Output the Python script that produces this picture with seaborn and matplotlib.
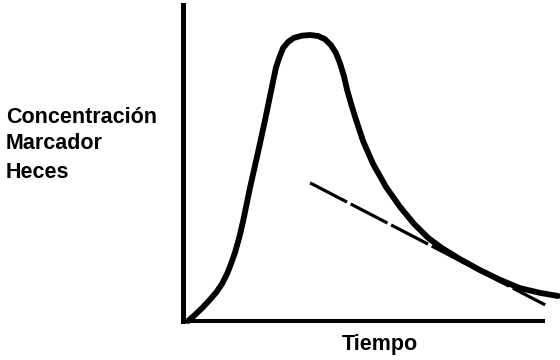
import matplotlib
matplotlib.use("Agg")
import matplotlib.pyplot as plt
import seaborn as sns
import pandas as pd

# Marker concentration in faeces over time (arbitrary units)
tiempo = [0.14, 0.33, 0.53, 0.72, 0.92, 1.08, 1.22, 1.33, 1.44, 1.56, 1.67, 1.86,
          2.08, 2.28, 2.47, 2.58, 2.67, 2.78, 2.92, 3.08, 3.31, 3.53, 3.75, 3.94,
          4.11, 4.25, 4.36, 4.47, 4.56, 4.67, 4.78, 5.00, 5.28, 5.64, 6.03, 6.42,
          6.81, 7.19, 7.69, 8.25, 8.81, 9.36, 9.92, 10.42]
concentracion = [0.00, 0.19, 0.41, 0.64, 0.90, 1.17, 1.48, 1.80, 2.15, 2.63, 3.16, 4.21,
                 5.32, 6.36, 7.41, 8.01, 8.32, 8.64, 8.83, 8.96, 9.03, 9.05, 9.02, 8.92,
                 8.73, 8.48, 8.16, 7.75, 7.31, 6.87, 6.46, 5.70, 4.97, 4.24, 3.61, 3.07,
                 2.63, 2.31, 1.96, 1.61, 1.30, 1.04, 0.89, 0.79]

# Tangent to the exponential tail (dashed)
tangente_t = [3.53, 10.06]
tangente_c = [4.37, 0.51]

etiqueta_y = ["Concentración", "Marcador", "Heces"]
etiqueta_x = "Tiempo"

sns.set_theme(style="white")
plt.rcParams["font.family"] = ["Liberation Sans", "DejaVu Sans"]

W, H = 560, 360
fig = plt.figure(figsize=(W / 100, H / 100), dpi=100)
fig.patch.set_facecolor("white")

x0_px, y0_px = 183, 321
ax = fig.add_axes([x0_px / W, (H - y0_px) / H, (W - x0_px) / W, (y0_px - 5) / H])
ax.set_facecolor("white")

curva = pd.DataFrame({"t": tiempo, "c": concentracion})
sns.lineplot(data=curva, x="t", y="c", ax=ax, sort=False, color="black",
             linewidth=4.2, solid_capstyle="round", solid_joinstyle="round",
             clip_on=False)

tang = pd.DataFrame({"t": tangente_t, "c": tangente_c})
sns.lineplot(data=tang, x="t", y="c", ax=ax, sort=False, color="black",
             linewidth=2.3, linestyle=(0, (13, 1.3)), clip_on=False)

ax.set_xlim(0, (W - x0_px) / 36)
ax.set_ylim(0, 10)
ax.set_xlabel("")
ax.set_ylabel("")
ax.set_xticks([])
ax.set_yticks([])

for side in ("top", "right"):
    ax.spines[side].set_visible(False)
ax.spines["left"].set_linewidth(3.6)
ax.spines["left"].set_color("black")
ax.spines["bottom"].set_linewidth(2.9)
ax.spines["bottom"].set_color("black")
ax.spines["bottom"].set_bounds(0, 10)
ax.spines["left"].set_bounds(0, 10)

font = dict(fontsize=15.5, fontweight="bold", color="black")
for texto, base in zip(etiqueta_y, [123, 149, 178]):
    fig.text(6 / W, (H - base) / H, texto, ha="left", va="baseline", **font)
fig.text(342 / W, (H - 350) / H, etiqueta_x, ha="left", va="baseline", **font)

fig.savefig("out.png", dpi=100, facecolor="white")
